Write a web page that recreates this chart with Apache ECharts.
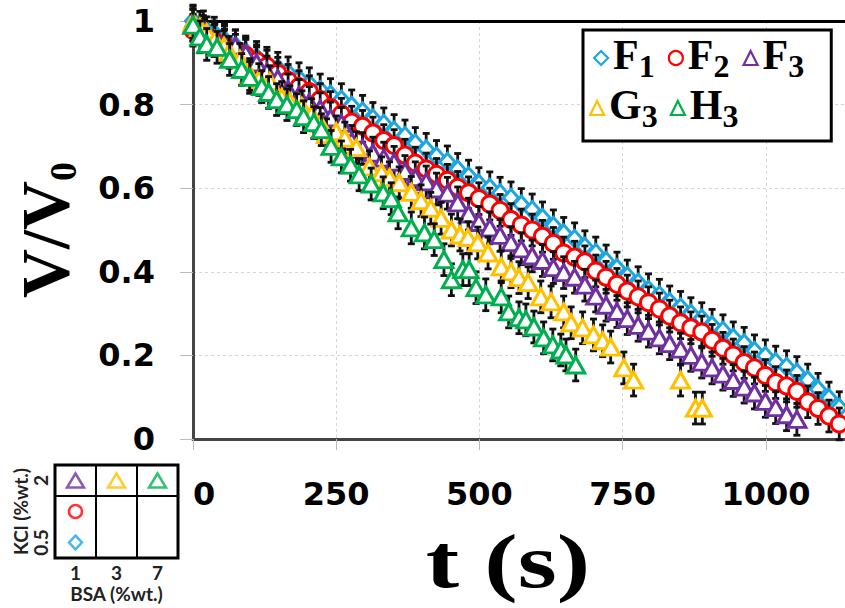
<!DOCTYPE html>
<html>
<head>
<meta charset="utf-8">
<script src="https://cdn.jsdelivr.net/npm/echarts@6/dist/echarts.min.js"></script>
<style>
  html, body { margin: 0; padding: 0; background: #fff; }
  #chart { width: 845px; height: 608px; }
</style>
</head>
<body>
<div id="chart"></div>
<script>
// Sampling times (s) shared by the F series
const tSample = [0,18,37,55,74,92,111,129,148,166,185,203,222,240,259,277,296,314,333,351,
  370,388,407,425,444,462,481,499,518,536,555,573,592,610,629,647,666,684,703,721,
  740,758,777,795,814,832,851,869,888,906,925,943,962,980,999,1017,1036,1054,1073,1091,
  1110,1128];

// Normalised volume V/V0
const vF1 = [1.000,0.986,0.971,0.955,0.941,0.926,0.913,0.899,0.887,0.876,
  0.862,0.850,0.835,0.824,0.812,0.797,0.784,0.767,0.754,0.738,
  0.725,0.707,0.693,0.676,0.663,0.645,0.629,0.611,0.601,0.588,
  0.577,0.561,0.548,0.529,0.510,0.492,0.479,0.460,0.445,0.426,
  0.409,0.390,0.374,0.357,0.344,0.328,0.315,0.300,0.288,0.272,
  0.259,0.242,0.229,0.211,0.199,0.184,0.173,0.159,0.141,0.119,
  0.098,0.075];
const vF2 = [0.978,0.966,0.953,0.942,0.930,0.918,0.905,0.892,0.875,0.858,
  0.843,0.831,0.812,0.793,0.777,0.758,0.748,0.732,0.714,0.702,
  0.679,0.660,0.646,0.633,0.619,0.602,0.589,0.575,0.562,0.547,
  0.525,0.512,0.500,0.485,0.468,0.445,0.435,0.424,0.402,0.387,
  0.370,0.354,0.340,0.326,0.311,0.294,0.278,0.266,0.256,0.236,
  0.217,0.201,0.183,0.170,0.152,0.135,0.127,0.114,0.089,0.073,
  0.055,0.036];
const vF3 = [0.990,0.975,0.962,0.950,0.940,0.922,0.900,0.878,0.862,0.835,
  0.822,0.805,0.790,0.768,0.755,0.712,0.695,0.684,0.672,0.662,
  0.640,0.625,0.615,0.598,0.588,0.565,0.538,0.518,0.505,0.487,
  0.470,0.455,0.438,0.427,0.410,0.398,0.387,0.368,0.342,0.320,
  0.305,0.288,0.272,0.258,0.242,0.228,0.215,0.200,0.184,0.170,
  0.155,0.140,0.124,0.110,0.090,0.075,0.058,0.047];

const tG3 = [0,12,24,38,54,63,82,99,115,134,155,169,190,207,222,233,250,265,285,308,
  329,343,360,381,398,415,433,451,466,480,497,515,538,555,569,585,607,625,647,660,
  680,699,715,729,752,769,851,877,889];
const vG3 = [0.997,0.985,0.972,0.955,0.939,0.925,0.908,0.872,0.860,0.855,
  0.817,0.807,0.795,0.776,0.755,0.728,0.735,0.720,0.697,0.651,
  0.637,0.625,0.613,0.590,0.570,0.552,0.528,0.500,0.488,0.482,
  0.469,0.445,0.412,0.400,0.386,0.374,0.340,0.328,0.304,0.278,
  0.266,0.249,0.235,0.220,0.170,0.141,0.141,0.074,0.074];

const tH3 = [0,12,24,42,64,85,99,120,132,146,164,181,193,211,224,241,259,275,290,311,
  332,346,358,381,404,421,438,451,471,482,494,511,538,551,569,581,595,612,628,642,
  651,668];
const vH3 = [0.990,0.962,0.944,0.937,0.908,0.884,0.865,0.843,0.829,0.812,
  0.800,0.788,0.771,0.757,0.740,0.700,0.675,0.655,0.632,0.610,
  0.589,0.575,0.541,0.505,0.493,0.477,0.429,0.381,0.405,0.405,
  0.362,0.345,0.340,0.304,0.290,0.285,0.268,0.242,0.225,0.213,
  0.201,0.177];

// Half-width of the error bars (V/V0 units)
const errHalf = 0.038;

// Axis ticks
const xTickStep = 250;
const xMax = 1138;
const yTickStep = 0.2;

// Composition key: BSA and KCl contents
const keyBSA = ['1', '3', '7'];
const keyKCl = ['0.5', '1', '2'];
const keyCells = [['1', '0.5'], ['1', '1'], ['1', '2'], ['3', '2'], ['7', '2']];

const seriesDefs = [
  { name: 'F1', t: tSample, v: vF1, color: '#1EA6E0', symbol: 'diamond',  size: [15, 17] },
  { name: 'F2', t: tSample, v: vF2, color: '#FF0000', symbol: 'circle',   size: 16 },
  { name: 'F3', t: tSample, v: vF3, color: '#7030A0', symbol: 'triangle', size: [18, 16] },
  { name: 'G3', t: tG3,     v: vG3, color: '#FFC000', symbol: 'triangle', size: [18, 16] },
  { name: 'H3', t: tH3,     v: vH3, color: '#00B050', symbol: 'triangle', size: [18, 16] }
];

const serifBold = { fontFamily: 'Liberation Serif', fontWeight: 'bold', color: '#000' };
const tickFont = { fontFamily: 'DejaVu Sans', fontWeight: 'bold', fontSize: 32, color: '#000' };
const keyFont = { fontFamily: 'Lato', fontWeight: 'bold', fontSize: 19, color: '#222' };

function errorBarItem(params, api) {
  const t = api.value(0);
  const top = api.coord([t, api.value(2)]);
  const bot = api.coord([t, api.value(1)]);
  const w = 3.5;
  const style = { stroke: '#111', lineWidth: 2.8 };
  return {
    type: 'group',
    children: [
      { type: 'line', shape: { x1: top[0], y1: top[1], x2: bot[0], y2: bot[1] }, style },
      { type: 'line', shape: { x1: top[0] - w, y1: top[1], x2: top[0] + w, y2: top[1] }, style },
      { type: 'line', shape: { x1: bot[0] - w, y1: bot[1], x2: bot[0] + w, y2: bot[1] }, style }
    ]
  };
}

const scatterSeries = seriesDefs.map((d, i) => ({
  type: 'scatter',
  name: d.name,
  xAxisIndex: 0,
  yAxisIndex: 0,
  z: 3 + i * 2,
  symbol: d.symbol,
  symbolSize: d.size,
  itemStyle: { color: '#fff', borderColor: d.color, borderWidth: 3, opacity: 1 },
  data: d.v.map((v, k) => [d.t[k], v])
}));

const errorSeries = seriesDefs.map((d, i) => ({
  type: 'custom',
  name: d.name,
  xAxisIndex: 0,
  yAxisIndex: 0,
  z: 2 + i * 2,
  renderItem: errorBarItem,
  encode: { x: 0, y: [1, 2] },
  data: d.v.map((v, k) => [d.t[k], v - errHalf, v + errHalf])
}));

const keySeries = seriesDefs.map((d, i) => ({
  type: 'scatter',
  xAxisIndex: 2,
  yAxisIndex: 1,
  z: 5,
  symbol: d.symbol,
  symbolSize: d.symbol === 'triangle' ? [17, 14] : (d.symbol === 'circle' ? 13 : [13, 14]),
  itemStyle: { color: '#fff', borderColor: d.color, borderWidth: 2.5 },
  data: [keyCells[i]]
}));

// Legend rows: F series on the first line, G and H on the second
function legendRow(defs, extra) {
  return Object.assign({
    orient: 'horizontal',
    itemWidth: 14,
    itemHeight: 14,
    data: defs.map(d => ({
      name: d.name,
      icon: d.symbol,
      itemStyle: { color: '#fff', borderColor: d.color, borderWidth: 2.2 }
    })),
    formatter: name => '{b|' + name.charAt(0) + '}{s|' + name.slice(1) + '}',
    textStyle: {
      rich: {
        b: Object.assign({ fontSize: 42, padding: [0, 0, 6, 0] }, serifBold),
        s: Object.assign({ fontSize: 32, verticalAlign: 'bottom' }, serifBold)
      }
    }
  }, extra);
}

const option = {
  animation: false,
  backgroundColor: '#fff',
  legend: [
    legendRow(seriesDefs.slice(0, 3), {
      left: 583, top: 30, itemGap: 13,
      padding: [4, 27, 59, 10],
      borderColor: '#000', borderWidth: 3, backgroundColor: '#fff'
    }),
    legendRow(seriesDefs.slice(3), {
      left: 589, top: 84, itemGap: 12, padding: 0
    })
  ],
  graphic: [
    {
      type: 'text',
      x: 508,
      y: 561,
      scaleX: 1.32,
      style: Object.assign({
        text: 't (s)',
        fontSize: 76,
        fill: '#000',
        align: 'center',
        verticalAlign: 'middle'
      }, { fontFamily: 'Liberation Serif', fontWeight: 'bold' })
    }
  ],
  grid: [
    { left: 191, right: 0, top: 21, bottom: 169, containLabel: false },
    { left: 55, top: 465, width: 123, height: 93, show: true,
      borderColor: '#000', borderWidth: 3, backgroundColor: 'transparent' }
  ],
  xAxis: [
    {
      type: 'value', gridIndex: 0, min: 0, max: xMax, interval: xTickStep,
      axisLine: { show: true, onZero: false, lineStyle: { color: '#444', width: 3 } },
      axisTick: { show: true, length: 11, lineStyle: { color: '#bbb', width: 1 } },
      axisLabel: Object.assign({
        margin: 39, showMaxLabel: false, alignMinLabel: 'left',
        formatter: v => String(v)
      }, tickFont),
      splitLine: { show: true, lineStyle: { color: '#d6d6d6', type: [3, 3], width: 1 } }
    },
    {
      type: 'value', gridIndex: 0, position: 'top', min: 0, max: xMax,
      axisLine: { show: true, onZero: false, lineStyle: { color: '#000', width: 3 } },
      axisTick: { show: false }, axisLabel: { show: false }, splitLine: { show: false }
    },
    {
      type: 'category', gridIndex: 1, data: keyBSA, boundaryGap: true,
      name: 'BSA (%wt.)', nameLocation: 'middle', nameGap: 26,
      nameTextStyle: keyFont,
      axisLine: { show: false }, axisTick: { show: false },
      axisLabel: Object.assign({ margin: 5 }, keyFont),
      splitLine: { show: true, lineStyle: { color: '#000', width: 2 } }
    }
  ],
  yAxis: [
    {
      type: 'value', gridIndex: 0, min: 0, max: 1, interval: yTickStep,
      name: '{v|V/V}{s|0}', nameLocation: 'middle', nameGap: 118, nameRotate: 90,
      nameTextStyle: {
        rich: {
          v: Object.assign({ fontSize: 68, lineHeight: 60 }, serifBold),
          s: Object.assign({ fontSize: 38, lineHeight: 24, padding: [36, 0, 0, 0] }, serifBold)
        }
      },
      axisLine: { show: true, onZero: false, lineStyle: { color: '#444', width: 3 } },
      axisTick: { show: true, length: 13, lineStyle: { color: '#bbb', width: 1 } },
      axisLabel: Object.assign({ margin: 38, formatter: v => String(v) }, tickFont),
      splitLine: { show: true, lineStyle: { color: '#d6d6d6', type: [3, 3], width: 1 } }
    },
    {
      type: 'category', gridIndex: 1, data: keyKCl, boundaryGap: true,
      name: 'KCl (%wt.)', nameLocation: 'middle', nameGap: 24, nameRotate: 90,
      nameTextStyle: keyFont,
      axisLine: { show: false }, axisTick: { show: false },
      axisLabel: Object.assign({ margin: 5, rotate: 90 }, keyFont),
      splitLine: { show: true, lineStyle: { color: '#000', width: 2 } }
    }
  ],
  series: scatterSeries.concat(errorSeries, keySeries)
};

const chart = echarts.init(document.getElementById('chart'), null, { renderer: 'svg' });
chart.setOption(option);
</script>
</body>
</html>
